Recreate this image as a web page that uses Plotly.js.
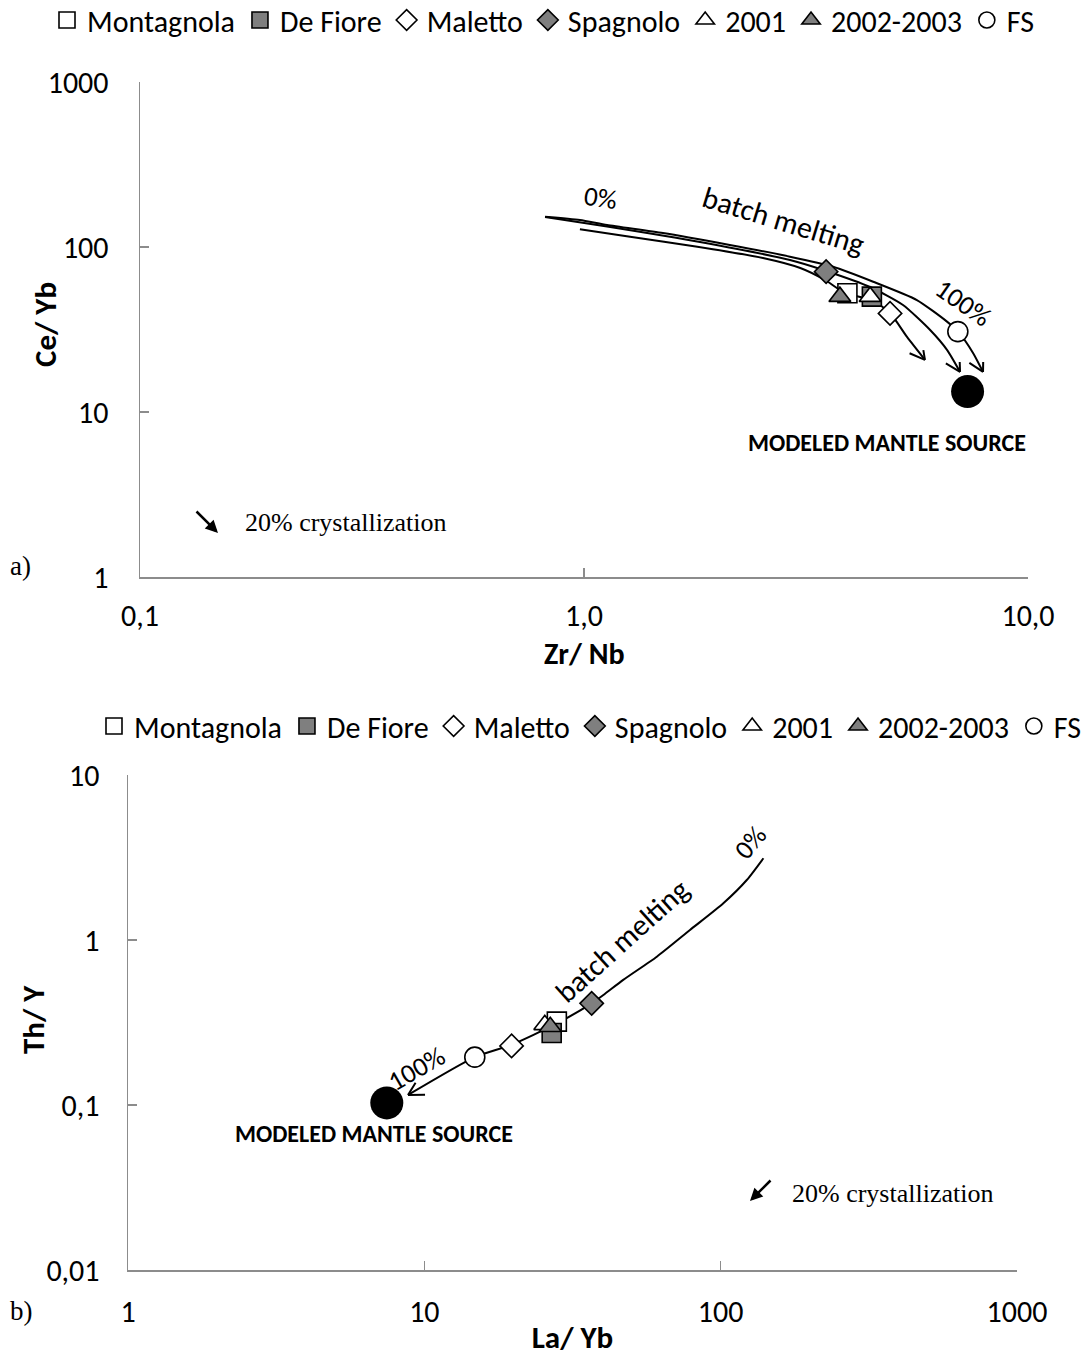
<!DOCTYPE html>
<html>
<head>
<meta charset="utf-8">
<script src="https://cdn.plot.ly/plotly-3.0.1.min.js"></script>
<style>html,body{margin:0;padding:0;background:#fff}#chart{width:1089px;height:1356px}</style>
</head>
<body>
<div id="chart"></div>
<script>
// ---------- DATA ----------
const seriesNames = ["Montagnola", "De Fiore", "Maletto", "Spagnolo", "2001", "2002-2003", "FS"];

// Panel a) Zr/Nb vs Ce/Yb
const zrNb = [3.92, 4.45, 4.89, 3.51, 4.41, 3.77, 6.95];
const ceYb = [52.4, 50.0, 39.6, 70.9, 50.0, 50.0, 30.7];
const mantleZrNb = [7.31];
const mantleCeYb = [13.3];
// batch melting curves (0% -> 100%)
const curveA_x = [0.817, 0.979, 1.127, 1.506, 2.13, 2.91, 3.64, 4.48, 5.62, 6.57, 6.96, 7.52, 7.92];
const curveA_y = [152.7, 145.8, 135.9, 121.5, 102.8, 87.4, 75.9, 61.6, 47.7, 35.3, 30.7, 22.8, 17.5];
const curveB_x = [0.817, 1.127, 1.825, 2.91, 3.51, 4.41, 5.23, 6.02, 6.57, 7.03];
const curveB_y = [152.0, 133.1, 107.2, 83.4, 71.6, 57.2, 44.5, 31.4, 23.8, 17.5];
const curveC_x = [0.979, 1.27, 1.80, 2.53, 3.07, 3.49, 3.87, 4.45, 4.89, 5.34, 5.86];
const curveC_y = [128.0, 115.4, 100.4, 85.8, 74.6, 63.1, 52.6, 47.7, 39.8, 28.5, 20.7];

// Panel b) La/Yb vs Th/Y
const laYb = [28.0, 26.9, 19.7, 36.7, 25.5, 26.6, 14.8];
const thY = [0.320, 0.273, 0.228, 0.413, 0.306, 0.298, 0.195];
const mantleLaYb = [7.47];
const mantleThY = [0.103];
const curveD_x = [139.4, 122.5, 102.1, 78.8, 60.9, 46.9, 40.2, 36.7, 27.8, 19.6, 14.8, 8.81];
const curveD_y = [3.13, 2.31, 1.67, 1.15, 0.792, 0.573, 0.464, 0.413, 0.310, 0.231, 0.195, 0.115];

// tick labels
const xTickValsA = [0.1, 1, 10];
const xTickTextA = ["0,1", "1,0", "10,0"];
const yTickValsA = [1, 10, 100, 1000];
const yTickTextA = ["1", "10", "100", "1000"];
const xTickValsB = [1, 10, 100, 1000];
const xTickTextB = ["1", "10", "100", "1000"];
const yTickValsB = [0.01, 0.1, 1, 10];
const yTickTextB = ["0,01", "0,1", "1", "10"];

// ---------- STYLE ----------
const W = 1089, H = 1356;
const FONT = "Carlito, 'Liberation Sans', Arial, sans-serif";
const SERIF = "'Liberation Serif', 'Times New Roman', serif";
const GRAY = "#7f7f7f";
const AX = "#8c8c8c";
const symbols = ["square", "square", "diamond", "diamond", "triangle-up", "triangle-up", "circle"];
const fills = ["#ffffff", GRAY, "#ffffff", GRAY, "#ffffff", GRAY, "#ffffff"];
const sizes = [19, 19, 18, 18, 19, 19, 20];

// domains (pixels -> paper)
const domA = {x: [140 / W, 1028 / W], y: [1 - 577 / H, 1 - 82 / H]};
const domB = {x: [128 / W, 1017 / W], y: [1 - 1270 / H, 1 - 775 / H]};
const rangeA = {x: [-1, 1], y: [0, 3]};
const rangeB = {x: [0, 3], y: [-2, 1]};
const pxA = {x: (domA.x[1] - domA.x[0]) * W / (rangeA.x[1] - rangeA.x[0]), y: (domA.y[1] - domA.y[0]) * H / (rangeA.y[1] - rangeA.y[0])};
const pxB = {x: (domB.x[1] - domB.x[0]) * W / (rangeB.x[1] - rangeB.x[0]), y: (domB.y[1] - domB.y[0]) * H / (rangeB.y[1] - rangeB.y[0])};

const traces = [];
function curve(xs, ys, xa, ya) {
  traces.push({x: xs, y: ys, xaxis: xa, yaxis: ya, mode: "lines", line: {color: "#000", width: 2, shape: "spline", smoothing: 0.6}, showlegend: false, hoverinfo: "skip"});
}
curve(curveA_x, curveA_y, "x", "y");
curve(curveB_x, curveB_y, "x", "y");
curve(curveC_x, curveC_y, "x", "y");
curve(curveD_x, curveD_y, "x2", "y2");

function groupTraces(xs, ys, xa, ya, legend) {
  seriesNames.forEach((n, i) => {
    traces.push({
      x: [xs[i]], y: [ys[i]], xaxis: xa, yaxis: ya, name: n, legend: legend,
      mode: "markers", marker: {symbol: symbols[i], size: sizes[i], color: fills[i], line: {color: "#000", width: 1.6}}
    });
  });
}
groupTraces(zrNb, ceYb, "x", "y", "legend");
traces.push({x: mantleZrNb, y: mantleCeYb, xaxis: "x", yaxis: "y", mode: "markers", showlegend: false, marker: {symbol: "circle", size: 33, color: "#000"}});
groupTraces(laYb, thY, "x2", "y2", "legend2");
traces.push({x: mantleLaYb, y: mantleThY, xaxis: "x2", yaxis: "y2", mode: "markers", showlegend: false, marker: {symbol: "circle", size: 33, color: "#000"}});

// V-shaped open arrow heads at curve ends
const annotations = [];
function vHead(xs, ys, xa, ya, px) {
  const n = xs.length;
  const dx = (Math.log10(xs[n - 1]) - Math.log10(xs[n - 2])) * px.x;
  const dy = -(Math.log10(ys[n - 1]) - Math.log10(ys[n - 2])) * px.y;
  const a = Math.atan2(dy, dx);
  const L = 20, th = 0.5;
  [a + th, a - th].forEach(b => {
    annotations.push({x: Math.log10(xs[n - 1]), y: Math.log10(ys[n - 1]), xref: xa, yref: ya, text: " ",
      showarrow: true, arrowhead: 0, arrowwidth: 2, arrowcolor: "#000", standoff: 0,
      ax: -L * Math.cos(b), ay: -L * Math.sin(b)});
  });
}
vHead(curveA_x, curveA_y, "x", "y", pxA);
vHead(curveB_x, curveB_y, "x", "y", pxA);
vHead(curveC_x, curveC_y, "x", "y", pxA);
vHead(curveD_x, curveD_y, "x2", "y2", pxB);

function txt(text, x, y, xref, yref, size, angle, extra) {
  annotations.push(Object.assign({text: text, x: x, y: y, xref: xref, yref: yref, showarrow: false,
    xanchor: "center", yanchor: "middle",
    textangle: angle || 0, font: {family: FONT, size: size, color: "#000"}}, extra || {}));
}
// panel a labels
txt("0%", 0.038, 2.297, "x", "y", 27, 8);
txt("batch melting", 0.450, 2.160, "x", "y", 30, 17);
txt("100%", 0.854, 1.661, "x", "y", 27, 35);
txt("<b>MODELED MANTLE SOURCE</b>", 0.682, 0.818, "x", "y", 24, 0);
// panel b labels
txt("0%", 2.099, 0.588, "x2", "y2", 27, -50);
txt("batch melting", 1.667, 0.0, "x2", "y2", 30, -42);
txt("100%", 0.972, -0.776, "x2", "y2", 27, -30);
txt("<b>MODELED MANTLE SOURCE</b>", 0.830, -1.170, "x2", "y2", 24, 0);

// axis titles placed as annotations
txt("<b>Ce/ Yb</b>", 45 / W, 1 - 325 / H, "paper", "paper", 31, -90);
txt("<b>Th/ Y</b>", 33 / W, 1 - 1020 / H, "paper", "paper", 31, -90);
txt("<b>Zr/ Nb</b>", 584 / W, 1 - 653 / H, "paper", "paper", 30, 0);

// crystallization vectors
annotations.push({x: 218 / W, y: 1 - 533 / H, xref: "paper", yref: "paper", text: "", showarrow: true,
  arrowhead: 2, arrowsize: 1, arrowwidth: 2.5, arrowcolor: "#000", ax: -23, ay: -23, standoff: 0});
annotations.push({x: 750 / W, y: 1 - 1201 / H, xref: "paper", yref: "paper", text: "", showarrow: true,
  arrowhead: 2, arrowsize: 1, arrowwidth: 2.5, arrowcolor: "#000", ax: 22, ay: -22, standoff: 0});
const serifFont = {family: SERIF, size: 26, color: "#000"};
txt("20% crystallization", 243 / W, 1 - 522 / H, "paper", "paper", 26, 0, {xanchor: "left", font: serifFont});
txt("20% crystallization", 790 / W, 1 - 1193 / H, "paper", "paper", 26, 0, {xanchor: "left", font: serifFont});
txt("a)", 8 / W, 1 - 566 / H, "paper", "paper", 26, 0, {xanchor: "left", font: {family: SERIF, size: 27, color: "#000"}});
txt("b)", 8 / W, 1 - 1311 / H, "paper", "paper", 26, 0, {xanchor: "left", font: {family: SERIF, size: 27, color: "#000"}});

function axis(dom, rng, vals, textv, title, standoff) {
  return {type: "log", domain: dom, range: rng, tickvals: vals, ticktext: textv,
    showgrid: false, zeroline: false, showline: true, linecolor: AX, linewidth: 1.5,
    ticks: "inside", ticklen: 9, tickcolor: AX, tickwidth: 1.5, ticklabelstandoff: standoff,
    tickfont: {family: FONT, size: 30, color: "#000"},
    title: title ? {text: "<b>" + title + "</b>", font: {family: FONT, size: 31, color: "#000"}, standoff: 0} : undefined};
}

const legendBase = {orientation: "h", xanchor: "center",
  font: {family: FONT, size: 30, color: "#000"}, itemsizing: "trace", itemwidth: 30, bgcolor: "rgba(0,0,0,0)"};

const layout = {
  width: W, height: H, margin: {l: 0, r: 0, t: 0, b: 0, autoexpand: false},
  paper_bgcolor: "#fff", plot_bgcolor: "#fff",
  showlegend: true,
  xaxis: axis(domA.x, rangeA.x, xTickValsA, xTickTextA, null, 11),
  yaxis: Object.assign(axis(domA.y, rangeA.y, yTickValsA, yTickTextA, null, 24), {anchor: "x"}),
  xaxis2: Object.assign(axis(domB.x, rangeB.x, xTickValsB, xTickTextB, "La/ Yb", 14), {anchor: "y2"}),
  yaxis2: Object.assign(axis(domB.y, rangeB.y, yTickValsB, yTickTextB, null, 21), {anchor: "x2"}),
  legend: Object.assign({}, legendBase, {x: 543 / W, y: 1 + 6 / H, yanchor: "top"}),
  legend2: Object.assign({}, legendBase, {x: 590 / W, y: 1 - 726 / H, yanchor: "middle"}),
  annotations: annotations
};

Plotly.newPlot("chart", traces, layout, {displayModeBar: false, staticPlot: true});
</script>
</body>
</html>
